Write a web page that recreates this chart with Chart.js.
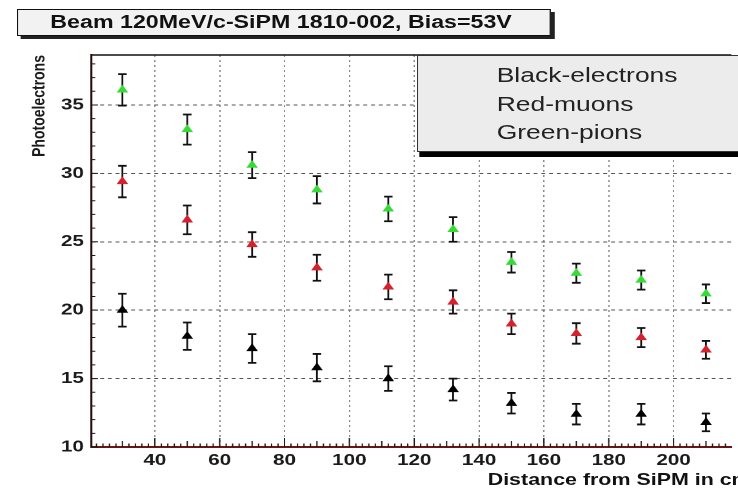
<!DOCTYPE html>
<html>
<head>
<meta charset="utf-8">
<script src="https://cdn.jsdelivr.net/npm/chart.js@4.4.1/dist/chart.umd.min.js"></script>
<style>
html, body { margin: 0; padding: 0; background: #fff; width: 738px; height: 493px; overflow: hidden; }
/* the reference is stretched sideways, so the whole page is drawn narrower and widened */
#stage { position: absolute; left: 0; top: 0; width: 572px; height: 493px; transform: scaleX(1.2902); transform-origin: 0 0; }
#chart { position: absolute; left: 0; top: 0; }
.titlebox { position: absolute; left: 13px; top: 9px; width: 414px; height: 27px; box-sizing: border-box; border: 1px solid #111; background: #f2f2f2; box-shadow: 3px 3px 0 #222; padding-left: 25px; font: bold 18px "Liberation Sans", Arial, sans-serif; line-height: 25px; color: #111; white-space: nowrap; }
.legendbox { position: absolute; left: 323px; top: 55px; width: 300px; height: 97px; box-sizing: border-box; border: 1px solid #333; background: #ececec; box-shadow: 2px 5px 0 #000; padding: 5px 0 0 61px; font: 20.5px "Liberation Sans", Arial, sans-serif; line-height: 28.5px; color: #222; white-space: nowrap; }
.xtitle { position: absolute; left: 378px; top: 470px; font: bold 16.6px "Liberation Sans", Arial, sans-serif; line-height: 20px; color: #111; white-space: nowrap; }
</style>
</head>
<body>
<div id="stage">
  <canvas id="chart" width="572" height="493"></canvas>
  <div class="titlebox">Beam 120MeV/c-SiPM 1810-002, Bias=53V</div>
  <div class="legendbox" id="legend"></div>
  <div class="xtitle">Distance from SiPM in cm</div>
</div>
<script>
// distance from SiPM (cm)
const distances = [30, 50, 70, 90, 112, 132, 150, 170, 190, 210];

// photoelectrons and errors per particle
const electrons    = [20.0, 18.1, 17.2, 15.8, 15.0, 14.2, 13.2, 12.4, 12.4, 11.8];
const electronsErr = [1.2, 1.0, 1.05, 1.0, 0.9, 0.8, 0.75, 0.75, 0.75, 0.65];
const muons        = [29.4, 26.6, 24.8, 23.1, 21.7, 20.6, 19.0, 18.3, 18.0, 17.1];
const muonsErr     = [1.15, 1.05, 0.9, 0.95, 0.9, 0.85, 0.75, 0.75, 0.7, 0.65];
const pions        = [36.1, 33.2, 30.6, 28.8, 27.4, 25.9, 23.5, 22.7, 22.2, 21.2];
const pionsErr     = [1.15, 1.1, 0.95, 1.0, 0.9, 0.9, 0.75, 0.7, 0.7, 0.68];

const legendLines = ['Black-electrons', 'Red-muons', 'Green-pions'];

const xTicks = [40, 60, 80, 100, 120, 140, 160, 180, 200];
const yTicks = [10, 15, 20, 25, 30, 35];

document.getElementById('legend').innerHTML = legendLines.join('<br>');

const series = [
    { label: 'electrons', values: electrons, errors: electronsErr, color: '#000000' },
    { label: 'muons', values: muons, errors: muonsErr, color: '#d8202c' },
    { label: 'pions', values: pions, errors: pionsErr, color: '#35dc35' }
];

// error bars + ROOT style inward ticks and top frame line
const rootStyle = {
    id: 'rootStyle',
    beforeDatasetsDraw(chart) {
        const ctx = chart.ctx, xs = chart.scales.x, ys = chart.scales.y;
        ctx.save();
        ctx.strokeStyle = '#111';
        series.forEach(s => {
            s.values.forEach((v, i) => {
                const px = xs.getPixelForValue(distances[i]);
                const top = ys.getPixelForValue(v + s.errors[i]);
                const bot = ys.getPixelForValue(v - s.errors[i]);
                ctx.lineWidth = 1.4;
                ctx.beginPath();
                ctx.moveTo(px, top); ctx.lineTo(px, bot);
                ctx.stroke();
                ctx.lineWidth = 1.8;
                ctx.beginPath();
                ctx.moveTo(px - 3.3, top); ctx.lineTo(px + 3.3, top);
                ctx.moveTo(px - 3.3, bot); ctx.lineTo(px + 3.3, bot);
                ctx.stroke();
            });
        });
        ctx.restore();
    },
    afterDraw(chart) {
        const ctx = chart.ctx, xs = chart.scales.x, ys = chart.scales.y, a = chart.chartArea;
        ctx.save();
        ctx.strokeStyle = '#1a1a1a';
        ctx.lineWidth = 1;
        ctx.beginPath();
        for (let v = Math.ceil(ys.min); v <= ys.max; v++) {
            const py = ys.getPixelForValue(v);
            const len = v % 5 === 0 ? 5 : 2.8;
            ctx.moveTo(a.left, py); ctx.lineTo(a.left + len, py);
        }
        for (let v = Math.ceil(xs.min / 2) * 2; v <= xs.max; v += 2) {
            const px = xs.getPixelForValue(v);
            const len = v % 20 === 0 ? 9 : (v % 10 === 0 ? 6 : 3.5);
            ctx.moveTo(px, a.bottom); ctx.lineTo(px, a.bottom - len);
        }
        ctx.stroke();
        ctx.lineWidth = 1.5;
        ctx.strokeStyle = '#111';
        ctx.beginPath();
        ctx.moveTo(a.left, a.top); ctx.lineTo(a.right, a.top);
        ctx.stroke();
        ctx.restore();
    }
};

Chart.defaults.font.family = '"Liberation Sans", Arial, sans-serif';

new Chart(document.getElementById('chart'), {
    type: 'scatter',
    data: {
        datasets: series.map(s => ({
            label: s.label,
            data: s.values.map((v, i) => ({ x: distances[i], y: v })),
            pointStyle: 'triangle',
            pointRadius: 5.2,
            pointBorderWidth: 0,
            pointBackgroundColor: s.color,
            pointBorderColor: s.color
        }))
    },
    options: {
        responsive: false,
        animation: false,
        devicePixelRatio: 2,
        layout: { padding: { top: 55, right: 0, bottom: 0, left: 0 } },
        plugins: { legend: { display: false }, tooltip: { enabled: false } },
        scales: {
            x: {
                type: 'linear',
                min: 20.5,
                max: 217.8,
                afterBuildTicks: s => { s.ticks = xTicks.map(v => ({ value: v })); },
                afterFit: s => { s.height = 46; },
                ticks: { autoSkip: false, maxRotation: 0, padding: 4, color: '#1a1a1a', font: { size: 16, weight: 'bold' } },
                grid: { color: '#8a8a8a', lineWidth: 1, drawTicks: false },
                border: { display: true, color: '#6e1414', width: 2, dash: [2, 3] }
            },
            y: {
                min: 10,
                max: 38.65,
                afterBuildTicks: s => { s.ticks = yTicks.map(v => ({ value: v })); },
                afterFit: s => { s.width = 71; },
                ticks: { padding: 6, color: '#1a1a1a', font: { size: 16, weight: 'bold' } },
                grid: { color: '#555555', lineWidth: 1, drawTicks: false },
                border: { display: true, color: '#2a0c0c', width: 1.6, dash: [3, 3] },
                title: { display: true, text: 'Photoelectrons', align: 'end', color: '#1a1a1a', padding: { top: 22, bottom: 0 }, font: { size: 14, weight: 'bold' } }
            }
        }
    },
    plugins: [rootStyle]
});
</script>
</body>
</html>
